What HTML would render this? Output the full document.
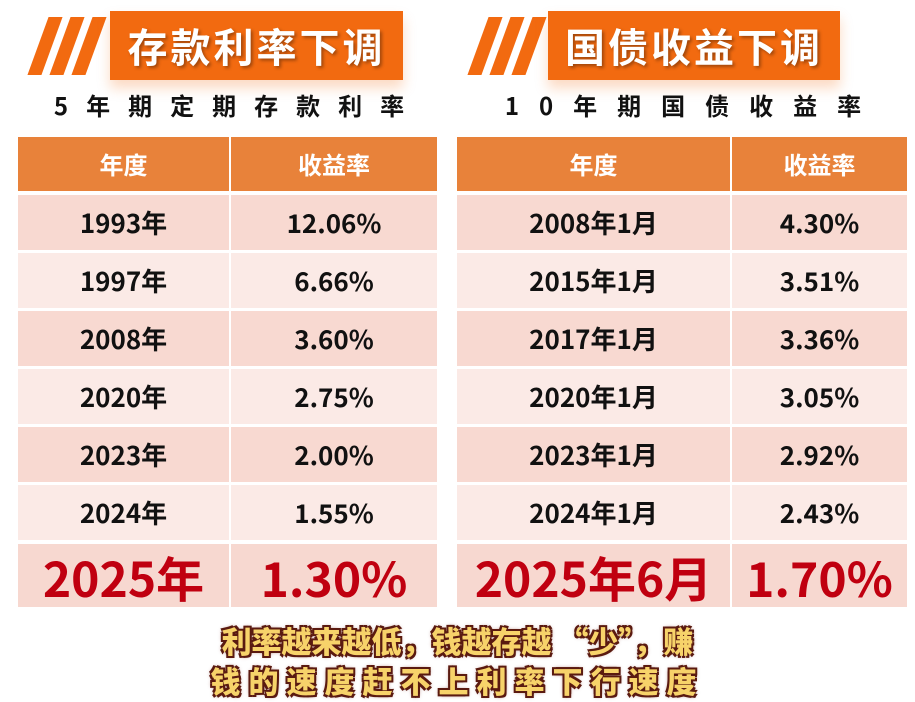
<!DOCTYPE html>
<html><head><meta charset="utf-8">
<style>
body{margin:0;width:915px;height:698px;background:#fff;position:relative;overflow:hidden;font-family:"Noto Sans CJK SC","Liberation Sans",sans-serif;}
.stripe{position:absolute;width:14px;height:58px;background:#f26a10;transform:skewX(-20deg);}
.tbox{position:absolute;top:11px;height:69px;background:#f26a10;color:#fff;font-weight:bold;font-size:40px;line-height:69px;text-align:center;letter-spacing:3px;text-shadow:2px 2px 3px rgba(0,0,0,.35);box-shadow:0 8px 12px rgba(242,106,16,.25);}
.sub{position:absolute;top:88px;height:34px;line-height:34px;font-weight:bold;font-size:24px;color:#111;text-align:center;}
.cell{position:absolute;display:flex;align-items:center;justify-content:center;font-weight:bold;color:#111;font-size:26px;line-height:1;}
.hd{background:#e8823a;color:#fff;font-size:24px;}
.cap{position:absolute;left:0;width:915px;text-align:center;font-weight:900;font-size:30px;line-height:36px;color:#f7d36a;text-shadow:-2px -2px 0 #5a1a10,2px -2px 0 #5a1a10,-2px 2px 0 #5a1a10,2px 2px 0 #5a1a10,0 0 5px #7a2a20;}
</style></head>
<body>
<div class="stripe" style="left:38px;top:17px"></div>
<div class="stripe" style="left:60px;top:17px"></div>
<div class="stripe" style="left:82px;top:17px"></div>
<div class="tbox" style="left:110px;width:293px">存款利率下调</div>
<div class="sub" style="left:38px;width:400px;letter-spacing:18px">5年期定期存款利率</div>

<div class="stripe" style="left:478px;top:17px"></div>
<div class="stripe" style="left:500px;top:17px"></div>
<div class="stripe" style="left:522px;top:17px"></div>
<div class="tbox" style="left:548px;width:292px">国债收益下调</div>
<div class="sub" style="left:488px;width:410px;letter-spacing:20px">10年期国债收益率</div>

<div id="tables"></div>

<div class="cap" style="top:622px">利率越来越低，钱越存越 “少”，赚</div>
<div class="cap" style="top:662px;letter-spacing:8px">钱的速度赶不上利率下行速度</div>

<script>
const depositYears=["1993年","1997年","2008年","2020年","2023年","2024年","2025年"];
const depositRates=["12.06%","6.66%","3.60%","2.75%","2.00%","1.55%","1.30%"];
const bondDates=["2008年1月","2015年1月","2017年1月","2020年1月","2023年1月","2024年1月","2025年6月"];
const bondRates=["4.30%","3.51%","3.36%","3.05%","2.92%","2.43%","1.70%"];
const headers=["年度","收益率"];
const root=document.getElementById('tables');
function cell(x,y,w,h,txt,cls,bg,name){
  const d=document.createElement('div');
  d.className='cell '+cls;
  d.style.left=x+'px';d.style.top=y+'px';d.style.width=w+'px';d.style.height=h+'px';
  if(bg)d.style.background=bg;
  d.textContent=txt;
  
  
  root.appendChild(d);return d;
}
function table(x0,split,x1,col1,col2,prefix){
  const w1=split-x0-1,w2=x1-split-1;
  cell(x0,137,w1,54,headers[0],'hd',null,prefix+'-header-date');
  cell(split+1,137,w2,54,headers[1],'hd',null,prefix+'-header-rate');
  for(let i=0;i<col1.length;i++){
    const last=i===col1.length-1;
    const y=195+i*58, h=last?63:55;
    const yy=last?y+1:y;
    const bg=last?'#f7d8d0':(i%2===0?'#f8d9d1':'#fbeae6');
    const a=cell(x0,yy,w1,h,col1[i],'',bg,prefix+'-date-'+i);
    const b=cell(split+1,yy,w2,h,col2[i],'',bg,prefix+'-rate-'+i);
    if(last){[a,b].forEach(e=>{e.style.color='#c00010';e.style.fontSize='48px';});}
  }
}
table(18,230,437,depositYears,depositRates,'deposit');
table(457,731,907,bondDates,bondRates,'bond');
</script>
</body></html>
